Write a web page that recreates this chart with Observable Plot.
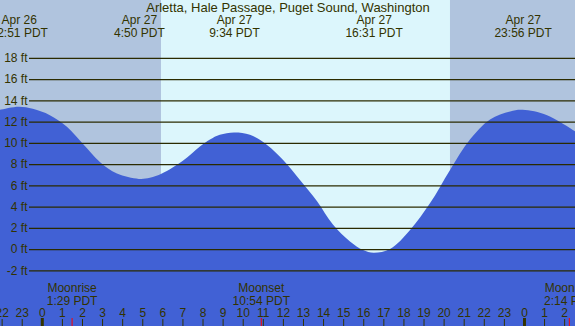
<!DOCTYPE html>
<html>
<head>
<meta charset="utf-8">
<script src="https://cdn.jsdelivr.net/npm/d3@7"></script>
<script src="https://cdn.jsdelivr.net/npm/@observablehq/plot@0.6"></script>
<style>
  html, body { margin: 0; padding: 0; background: #fff; }
  #chart svg { display: block; max-width: none; }
</style>
</head>
<body>
<div id="chart"></div>
<script>
// ---- Data (hours since Apr 27 00:00 PDT; heights in ft) ----
const title = "Arletta, Hale Passage, Puget Sound, Washington";

const tideHours = [-2.1, -1.15, -0.45, 0.4, 1.25, 2.04, 2.89, 3.74, 4.83, 5.38, 5.98, 7.02, 7.87, 8.37, 8.86, 9.57,
  10.36, 11.21, 12.0, 12.85, 13.7, 14.49, 15.34, 15.99, 16.52, 17.33, 18.33, 19.32, 20.32, 21.31, 22.31, 23.31, 23.93, 25.15, 26.6];
const tideFeet = [13.1, 13.4, 13.2, 12.6, 11.5, 9.9, 8.2, 7.1, 6.6, 6.7, 7.1, 8.3, 9.65, 10.3, 10.75, 10.97,
  10.75, 9.8, 8.4, 6.5, 4.5, 2.3, 0.7, -0.1, -0.35, 0.0, 1.8, 4.3, 7.45, 10.3, 12.2, 12.95, 13.1, 12.6, 11.0];

const extremeDays = ["Apr 26", "Apr 27", "Apr 27", "Apr 27", "Apr 27"];
const extremeDayOffset = [-1, 0, 0, 0, 0];
const extremeTimes = ["22:51", "4:50", "9:34", "16:31", "23:56"];

const moonNames = ["Moonrise", "Moonset", "Moonrise"];
const moonDayOffset = [0, 0, 1];
const moonTimes = ["1:29", "10:54", "2:14"];

const sunriseTime = "5:56";
const sunsetTime = "20:19";

const gridFeet = [-2, 0, 2, 4, 6, 8, 10, 12, 14, 16, 18];
const hourTicks = [-2, -1, 0, 1, 2, 3, 4, 5, 6, 7, 8, 9, 10, 11, 12, 13, 14, 15, 16, 17, 18, 19, 20, 21, 22, 23, 24, 25, 26];
const hourLabels = ["22", "23", "0", "1", "2", "3", "4", "5", "6", "7", "8", "9", "10", "11", "12", "13", "14", "15", "16", "17", "18", "19", "20", "21", "22", "23", "0", "1", "2"];

// ---- Build tables ----
const toHours = (s, day) => { const [h, m] = s.split(":").map(Number); return day * 24 + h + m / 60; };
const xDomain = [-2.081, 26.54];
const yDomain = [-7.242, 23.44];

const tide = tideHours.map((t, i) => ({t, ft: tideFeet[i]}));
const extremes = extremeTimes.map((s, i) => ({t: toHours(s, extremeDayOffset[i]), label: `${extremeDays[i]}\n${s} PDT`}));
const moon = moonTimes.map((s, i) => ({t: toHours(s, moonDayOffset[i]), label: `${moonNames[i]}\n${s} PDT`}));
const sunrise = toHours(sunriseTime, 0), sunset = toHours(sunsetTime, 0);
const bands = [
  {start: xDomain[0], end: sunrise, kind: "night"},
  {start: sunrise, end: sunset, kind: "day"},
  {start: sunset, end: xDomain[1], kind: "night"}
];
const hours = hourTicks.map((h, i) => ({h, label: hourLabels[i], midnight: hourLabels[i] === "0"}));

const ink = "#333300";
const font = "'Liberation Sans', Arial, sans-serif";

const chart = Plot.plot({
  width: 575,
  height: 326,
  margin: 0,
  style: {fontFamily: font, fontSize: "12px", background: "#fff", overflow: "hidden"},
  x: {domain: xDomain, axis: null},
  y: {domain: yDomain, axis: null},
  color: {domain: ["night", "day"], range: ["#b0c4de", "#dcf6fc"]},
  marks: [
    Plot.rect(bands, {x1: "start", x2: "end", fill: "kind"}),
    Plot.areaY(tide, {x: "t", y1: yDomain[0], y2: "ft", fill: "#4161d5", curve: "catmull-rom"}),
    Plot.ruleY(gridFeet, {y: d => d, stroke: "#2b2b00", strokeWidth: 1.2, insetLeft: 29}),
    Plot.text(gridFeet, {y: d => d, text: d => `${d} ft`, frameAnchor: "left", dx: 27, textAnchor: "end", lineAnchor: "middle", fill: ink, fontSize: 12}),
    Plot.text([title], {text: d => d, frameAnchor: "top", dy: 2.5, lineAnchor: "top", fill: ink, fontSize: 13}),
    Plot.text(extremes, {x: "t", text: "label", frameAnchor: "top", dy: 14, lineAnchor: "top", lineHeight: 1.08, fill: ink, fontSize: 12}),
    Plot.text(moon, {x: "t", text: "label", frameAnchor: "top", dy: 283, lineAnchor: "top", lineHeight: 1.03, fill: ink, fontSize: 12}),
    Plot.text(hours, {x: "h", text: "label", frameAnchor: "top", dy: 307.5, lineAnchor: "top", fill: ink, fontSize: 12}),
    Plot.ruleX(hours.filter(d => !d.midnight), {x: "h", stroke: ink, strokeWidth: 1, insetTop: 319}),
    Plot.ruleX(hours.filter(d => d.midnight), {x: "h", stroke: ink, strokeWidth: 3, insetTop: 318}),
    Plot.ruleX(moon, {x: "t", stroke: "#ff0000", strokeWidth: 1, insetTop: 318})
  ]
});
document.getElementById("chart").append(chart);
</script>
</body>
</html>
